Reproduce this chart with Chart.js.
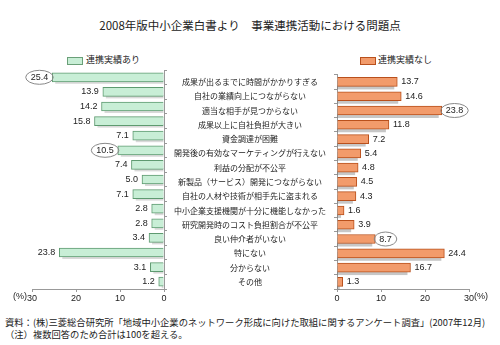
<!DOCTYPE html>
<html>
<head>
<meta charset="utf-8">
<script src="https://cdn.jsdelivr.net/npm/chart.js@4.4.0/dist/chart.umd.min.js"></script>
<style>
  body { margin: 0; background: #fff; }
  #wrap { position: relative; width: 500px; height: 345px; overflow: hidden;
          font-family: "Noto Sans CJK JP", sans-serif; color: #222; }
  .txt { position: absolute; white-space: nowrap; line-height: 12px; }
  .box { position: absolute; width: 14px; height: 6px; }
  canvas { position: absolute; }
</style>
</head>
<body>
<div id="wrap">
  <div class="txt" id="title" style="left:0;width:500px;text-align:center;top:19px;font-size:11.5px;">2008年版中小企業白書より　事業連携活動における問題点</div>

  <div class="box" style="left:67px;top:57px;background:#c8eed6;border:1px solid #6a9f78;"></div>
  <div class="txt" style="left:86px;top:54px;font-size:9px;">連携実績あり</div>
  <div class="box" style="left:360px;top:57px;background:#f29b6b;border:1px solid #b9501c;"></div>
  <div class="txt" style="left:378px;top:54px;font-size:9px;">連携実績なし</div>

  <canvas id="leftChart"  width="170" height="250" style="left:0;top:62px;"></canvas>
  <canvas id="rightChart" width="336" height="250" style="left:164px;top:62px;"></canvas>

  <div class="txt" style="left:5px;top:316px;font-size:9.3px;">資料：(株)三菱総合研究所「地域中小企業のネットワーク形成に向けた取組に関するアンケート調査」(2007年12月)</div>
  <div class="txt" style="left:5px;top:328px;font-size:9.3px;">（注）複数回答のため合計は100を超える。</div>
</div>

<script>
const categories = [
  '成果が出るまでに時間がかかりすぎる',
  '自社の業績向上につながらない',
  '適当な相手が見つからない',
  '成果以上に自社負担が大きい',
  '資金調達が困難',
  '開発後の有効なマーケティングが行えない',
  '利益の分配が不公平',
  '新製品（サービス）開発につながらない',
  '自社の人材や技術が相手先に盗まれる',
  '中小企業支援機関が十分に機能しなかった',
  '研究開発時のコスト負担割合が不公平',
  '良い仲介者がいない',
  '特にない',
  '分からない',
  'その他'
];
const withPartner    = [25.4, 13.9, 14.2, 15.8, 7.1, 10.5, 7.4, 5.0, 7.1, 2.8, 2.8, 3.4, 23.8, 3.1, 1.2];
const withoutPartner = [13.7, 14.6, 23.8, 11.8, 7.2, 5.4, 4.8, 4.5, 4.3, 1.6, 3.9, 8.7, 24.4, 16.7, 1.3];
const circledLeft  = [0, 5];
const circledRight = [2, 11];
const xMax  = 30;
const xStep = 10;

const TEXT  = '#222';
const AXIS  = '#999';
const NUM_FONT = { family: '"Liberation Sans", Arial, sans-serif', size: 9 };

// gray shadow under each bar
const barShadow = {
  id: 'barShadow',
  beforeDatasetsDraw(chart, args, opts) {
    const ctx = chart.ctx;
    ctx.save();
    ctx.fillStyle = opts.color;
    chart.getDatasetMeta(0).data.forEach(b => {
      const l = Math.min(b.x, b.base), r = Math.max(b.x, b.base);
      ctx.fillRect(l + opts.dl, b.y - b.height / 2 + opts.dy, r - l - 3, b.height);
    });
    ctx.restore();
  }
};

// numbers at bar ends, some of them circled
const valueLabels = {
  id: 'valueLabels',
  afterDatasetsDraw(chart, args, opts) {
    const ctx  = chart.ctx;
    const vals = chart.data.datasets[0].data;
    ctx.save();
    ctx.font = NUM_FONT.size + 'px ' + NUM_FONT.family;
    ctx.fillStyle = TEXT;
    ctx.textBaseline = 'middle';
    chart.getDatasetMeta(0).data.forEach((bar, i) => {
      const txt = vals[i].toFixed(1);
      const w   = ctx.measureText(txt).width;
      let cx;
      if (opts.side === 'left') {
        ctx.textAlign = 'right';
        ctx.fillText(txt, bar.x - 4, bar.y);
        cx = bar.x - 4 - w / 2;
      } else {
        ctx.textAlign = 'left';
        ctx.fillText(txt, bar.x + 4, bar.y);
        cx = bar.x + 4 + w / 2;
      }
      if (opts.circled.includes(i)) {
        ctx.beginPath();
        ctx.ellipse(cx, bar.y, w / 2 + 5, 7, 0, 0, Math.PI * 2);
        ctx.strokeStyle = '#888';
        ctx.lineWidth = 1;
        ctx.stroke();
      }
    });
    ctx.restore();
  }
};

// "(%)" next to the outer tick label
const unitLabel = {
  id: 'unitLabel',
  afterDraw(chart, args, opts) {
    const ctx = chart.ctx;
    const sx  = chart.scales.x;
    const x   = sx.getPixelForValue(xMax);
    const y   = sx.top + 8;
    ctx.save();
    ctx.font = NUM_FONT.size + 'px ' + NUM_FONT.family;
    ctx.fillStyle = TEXT;
    ctx.textBaseline = 'middle';
    if (opts.side === 'left') {
      ctx.textAlign = 'right';
      ctx.fillText('(%)', x - 5, y);
    } else {
      ctx.textAlign = 'left';
      ctx.fillText('(%)', x + 5, y);
    }
    ctx.restore();
  }
};

function xScale(reverse) {
  return {
    type: 'linear',
    reverse,
    min: 0,
    max: xMax,
    ticks: { stepSize: xStep, padding: 1, color: TEXT, font: NUM_FONT, maxRotation: 0 },
    grid: { drawOnChartArea: false, tickLength: 3, color: AXIS },
    border: { color: AXIS },
    afterFit: s => { s.height = 23; }
  };
}

new Chart(document.getElementById('leftChart'), {
  type: 'bar',
  data: {
    labels: categories,
    datasets: [{
      data: withPartner,
      backgroundColor: '#c8eed6',
      borderColor: '#5e9a70',
      borderWidth: 1,
      barThickness: 9
    }]
  },
  options: {
    indexAxis: 'y',
    responsive: false,
    animation: false,
    events: [],
    layout: { padding: { left: 32, right: 6, top: 8, bottom: 0 } },
    scales: {
      x: xScale(true),
      y: {
        position: 'right',
        ticks: { display: false },
        grid: { drawOnChartArea: false, offset: true, tickLength: 3, color: AXIS },
        border: { color: AXIS },
        afterFit: s => { s.width = 0; }
      }
    },
    plugins: {
      legend: { display: false },
      tooltip: { enabled: false },
      barShadow: { color: 'rgba(0,0,0,0.15)', dl: 3, dy: 2 },
      valueLabels: { side: 'left', circled: circledLeft },
      unitLabel: { side: 'left' }
    }
  },
  plugins: [barShadow, valueLabels, unitLabel]
});

new Chart(document.getElementById('rightChart'), {
  type: 'bar',
  data: {
    labels: categories,
    datasets: [{
      data: withoutPartner,
      backgroundColor: '#f29b6b',
      borderColor: '#b9501c',
      borderWidth: 1,
      barThickness: 9
    }]
  },
  options: {
    indexAxis: 'y',
    responsive: false,
    animation: false,
    events: [],
    layout: { padding: { left: 0, right: 31, top: 8, bottom: 0 } },
    scales: {
      x: xScale(false),
      y: {
        position: 'left',
        ticks: {
          crossAlign: 'center',
          padding: 8,
          color: TEXT,
          font: { family: '"Noto Sans CJK JP", sans-serif', size: 8 },
          autoSkip: false
        },
        grid: { drawOnChartArea: false, offset: true, tickLength: 3, color: AXIS },
        border: { color: AXIS },
        afterFit: s => { s.width = 173; }
      }
    },
    plugins: {
      legend: { display: false },
      tooltip: { enabled: false },
      barShadow: { color: 'rgba(0,0,0,0.22)', dl: 0, dy: 3 },
      valueLabels: { side: 'right', circled: circledRight },
      unitLabel: { side: 'right' }
    }
  },
  plugins: [barShadow, valueLabels, unitLabel]
});
</script>
</body>
</html>
